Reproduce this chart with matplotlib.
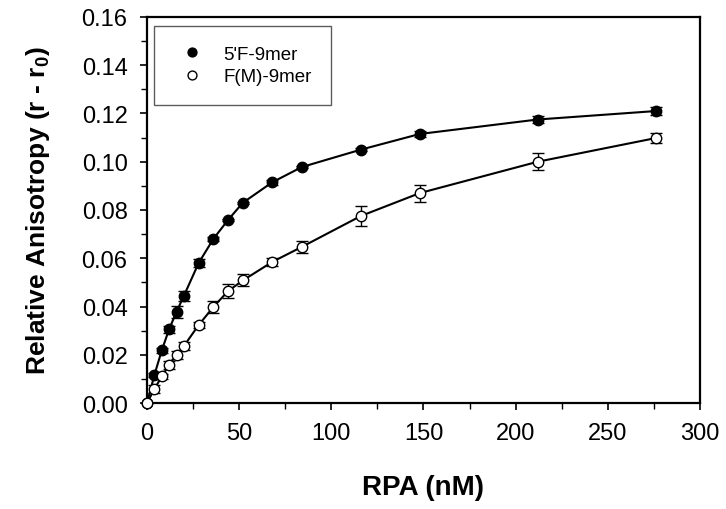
# RPA binding to fluorescent 9mer substrates (fluorescence anisotropy)
import matplotlib
matplotlib.use("Agg")
import matplotlib.pyplot as plt
from matplotlib.ticker import MultipleLocator

plt.rcParams["font.family"] = ["Liberation Sans", "DejaVu Sans"]

# Data
rpa_nm = [0, 4, 8, 12, 16, 20, 28, 36, 44, 52, 68, 84, 116, 148, 212, 276]
f5_9mer = [0, 0.0116, 0.0218, 0.0306, 0.0378, 0.0444, 0.0580, 0.0680,
           0.0759, 0.0830, 0.0915, 0.0978, 0.1050, 0.1115, 0.1175, 0.1210]
f5_err = [0, 0.0008, 0.0010, 0.0015, 0.0025, 0.0020, 0.0015, 0.0010,
          0.0005, 0.0005, 0.0010, 0.0005, 0.0005, 0.0013, 0.0015, 0.0015]
fm_9mer = [0, 0.0058, 0.0110, 0.0158, 0.0199, 0.0236, 0.0323, 0.0398,
           0.0464, 0.0508, 0.0585, 0.0647, 0.0775, 0.0870, 0.1000, 0.1098]
fm_err = [0, 0.0015, 0.0012, 0.0015, 0.0015, 0.0015, 0.0012, 0.0025,
          0.0030, 0.0025, 0.0018, 0.0025, 0.0040, 0.0035, 0.0035, 0.0022]

fig = plt.figure(figsize=(7.26, 5.10), dpi=100)
ax = fig.add_axes([0.2025, 0.2078, 0.7615, 0.757])

ax.plot(rpa_nm, f5_9mer, color="black", lw=1.5, zorder=2)
ax.plot(rpa_nm, fm_9mer, color="black", lw=1.5, zorder=2)
eb1 = ax.errorbar(rpa_nm, f5_9mer, yerr=f5_err, fmt="o", ms=7.5, mfc="black", mec="black",
                  ecolor="black", elinewidth=1, capsize=4, capthick=1, label="5'F-9mer", zorder=3)
eb2 = ax.errorbar(rpa_nm, fm_9mer, yerr=fm_err, fmt="o", ms=7.5, mfc="white", mec="black",
                  ecolor="black", elinewidth=1, capsize=4, capthick=1, label="F(M)-9mer", zorder=4)
# let the markers at the origin sit on top of the axes
eb1[0].set_clip_on(False)
eb2[0].set_clip_on(False)

ax.set_xlim(0, 300)
ax.set_ylim(0, 0.16)
ax.xaxis.set_major_locator(MultipleLocator(50))
ax.xaxis.set_minor_locator(MultipleLocator(25))
ax.yaxis.set_major_locator(MultipleLocator(0.02))
ax.yaxis.set_minor_locator(MultipleLocator(0.01))
ax.yaxis.set_major_formatter(lambda v, p: f"{v:.2f}")
ax.tick_params(which="major", direction="out", length=5, width=1.2, labelsize=17, pad=9)
ax.tick_params(which="minor", direction="out", length=4, width=1)
ax.tick_params(top=False, right=False, which="both")
for s in ax.spines.values():
    s.set_linewidth(1.6)

ax.set_xlabel("RPA (nM)", fontsize=20, fontweight="bold", labelpad=21)
ax.set_ylabel(r"Relative Anisotropy (r - r$_\mathregular{0}$)", fontsize=19,
              fontweight="bold", labelpad=21)

h, l = ax.get_legend_handles_labels()
h = [x[0] for x in h]
leg = ax.legend(h, l, loc="upper left", fontsize=13.5, frameon=True, fancybox=False,
                edgecolor="#333333", borderpad=1.05, handletextpad=0.65, handlelength=2.0,
                labelspacing=0.3, borderaxespad=0,
                bbox_to_anchor=(0.0127, 0.977), markerscale=0.85)
leg.get_frame().set_linewidth(1)

fig.savefig("out.png", dpi=100)
